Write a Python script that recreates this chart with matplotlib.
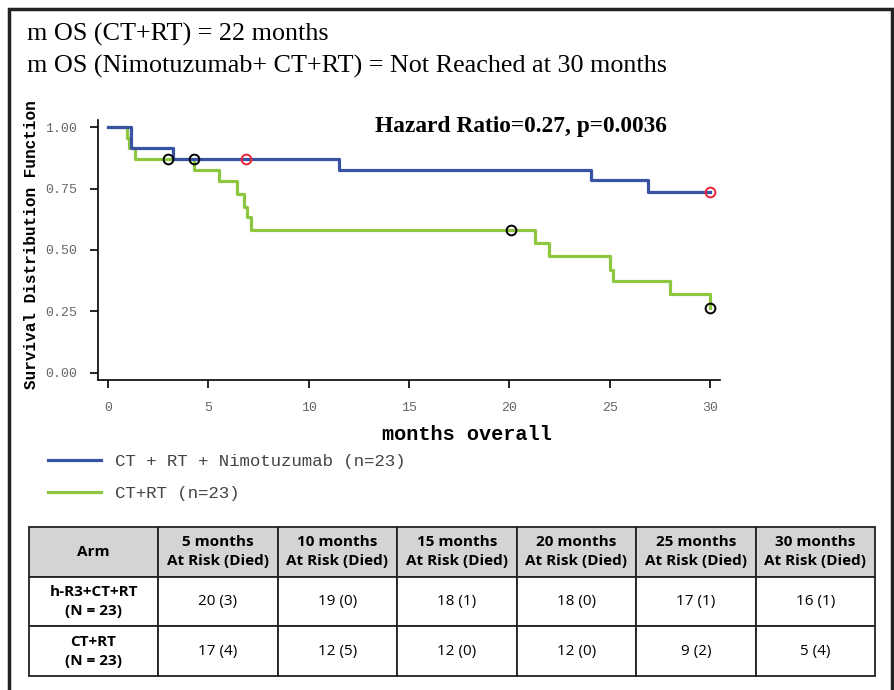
import numpy as np
import matplotlib.pyplot as plt
from matplotlib.patches import Rectangle

# Kaplan-Meier curves
blue_t = [0, 1.15, 3.25, 11.5, 24.05, 26.9, 30]
blue_s = [1.0, 0.913, 0.870, 0.826, 0.783, 0.735, 0.735]
green_t = [0, 0.93, 1.06, 1.35, 4.3, 5.55, 6.41, 6.79, 6.91, 7.13, 21.3, 22.0, 25.0, 25.15, 28.0, 30]
green_s = [1.0, 0.957, 0.913, 0.870, 0.826, 0.780, 0.728, 0.676, 0.633, 0.582, 0.530, 0.477, 0.42, 0.372, 0.320, 0.264]

# censored observations
blue_cens_t = [6.9, 30]
blue_cens_s = [0.870, 0.735]
green_cens_t = [3.0, 4.3, 20.1, 30]
green_cens_s = [0.870, 0.870, 0.582, 0.264]

label_blue = 'CT + RT + Nimotuzumab (n=23)'
label_green = 'CT+RT (n=23)'

col_labels = ['Arm', '5 months\nAt Risk (Died)', '10 months\nAt Risk (Died)', '15 months\nAt Risk (Died)',
              '20 months\nAt Risk (Died)', '25 months\nAt Risk (Died)', '30 months\nAt Risk (Died)']
row_arms = ['h-R3+CT+RT\n(N = 23)', 'CT+RT\n(N = 23)']
risk_nimo = ['20 (3)', '19 (0)', '18 (1)', '18 (0)', '17 (1)', '16 (1)']
risk_ctrt = ['17 (4)', '12 (5)', '12 (0)', '12 (0)', '9 (2)', '5 (4)']

BLUE = '#3953a4'
GREEN = '#8dc63f'
W, H = 895, 690

fig = plt.figure(figsize=(W / 100, H / 100), dpi=100)


def fx(px):
    return px / W


def fy(py):
    return 1 - py / H


# outer frame (bottom edge runs off the picture)
fig.patches.append(Rectangle((fx(9.5), fy(700)), fx(883), (700 - 9) / H, transform=fig.transFigure,
                             fill=False, edgecolor='#222222', linewidth=2.5))

fig.text(fx(27), fy(34), 'm OS (CT+RT) = 22 months', family='Liberation Serif', fontsize=18.8, va='center')
fig.text(fx(27), fy(66), 'm OS (Nimotuzumab+ CT+RT) = Not Reached at 30 months',
         family='Liberation Serif', fontsize=18.8, va='center')

ax = fig.add_axes([fx(98), fy(380), (720 - 98) / W, (380 - 120) / H])
ax.step(green_t, green_s, where='post', color=GREEN, lw=2.3)
ax.step(blue_t, blue_s, where='post', color=BLUE, lw=2.3)
ax.plot(green_cens_t, green_cens_s, 'o', mfc='none', mec='black', ms=7, mew=1.4)
ax.plot(blue_cens_t, blue_cens_s, 'o', mfc='none', mec='#ee2233', ms=7, mew=1.4)

ax.set_xlim(-0.5, 30.5)
ax.set_ylim(-0.0285, 1.0285)
ax.set_xticks([0, 5, 10, 15, 20, 25, 30])
ax.set_yticks([0, 0.25, 0.5, 0.75, 1.0])
ax.set_yticklabels(['0.00', '0.25', '0.50', '0.75', '1.00'])
for s in ['top', 'right']:
    ax.spines[s].set_visible(False)
for s in ['left', 'bottom']:
    ax.spines[s].set_linewidth(1.2)
ax.tick_params(axis='both', direction='out', length=6, width=1.2, labelsize=9.5, colors='black')
ax.tick_params(axis='x', pad=10)
ax.tick_params(axis='y', pad=9)
for lab in ax.get_xticklabels() + ax.get_yticklabels():
    lab.set_family('Liberation Mono')
    lab.set_color('#666666')

fig.text(fx(32), fy(245), 'Survival Distribution Function', family='Liberation Mono', fontweight='bold',
         fontsize=11.5, rotation=90, ha='center', va='center')
fig.text(fx(467), fy(434), 'months overall', family='Liberation Mono', fontweight='bold',
         fontsize=14.6, ha='center', va='center')
ax.text(0.445, 0.975, 'Hazard Ratio=0.27, p=0.0036', transform=ax.transAxes, family='Liberation Serif',
        fontweight='bold', fontsize=16.8, va='center')

lb, = ax.plot([], [], color=BLUE, lw=2.3, label=label_blue)
lg, = ax.plot([], [], color=GREEN, lw=2.3, label=label_green)
fig.legend(handles=[lb, lg], loc='upper left', bbox_to_anchor=(fx(32), fy(438)), frameon=False,
           prop={'family': 'Liberation Mono', 'size': 12.5}, handlelength=3.1, labelspacing=1.0,
           handletextpad=0.8, labelcolor='#444444')

# at-risk table
tx = fig.add_axes([fx(29), fy(676), (875 - 29) / W, (676 - 527) / H])
tx.axis('off')
cells = [[row_arms[0]] + risk_nimo, [row_arms[1]] + risk_ctrt]
widths = [129] + [119.4] * 6
widths = [w / sum(widths) for w in widths]
tab = tx.table(cellText=cells, colLabels=col_labels, colWidths=widths, bbox=[0, 0, 1, 1], cellLoc='center')
tab.auto_set_font_size(False)
for (r, c), cell in tab.get_celld().items():
    cell.set_linewidth(1.3)
    cell.set_edgecolor('#222222')
    t = cell.get_text()
    t.set_family('Open Sans')
    t.set_fontsize(11)
    t.set_linespacing(1.45)
    if r == 0:
        cell.set_facecolor('#d4d4d4')
        t.set_fontweight('bold')
    elif c == 0:
        t.set_fontweight('bold')

fig.savefig('out.png', dpi=100)
